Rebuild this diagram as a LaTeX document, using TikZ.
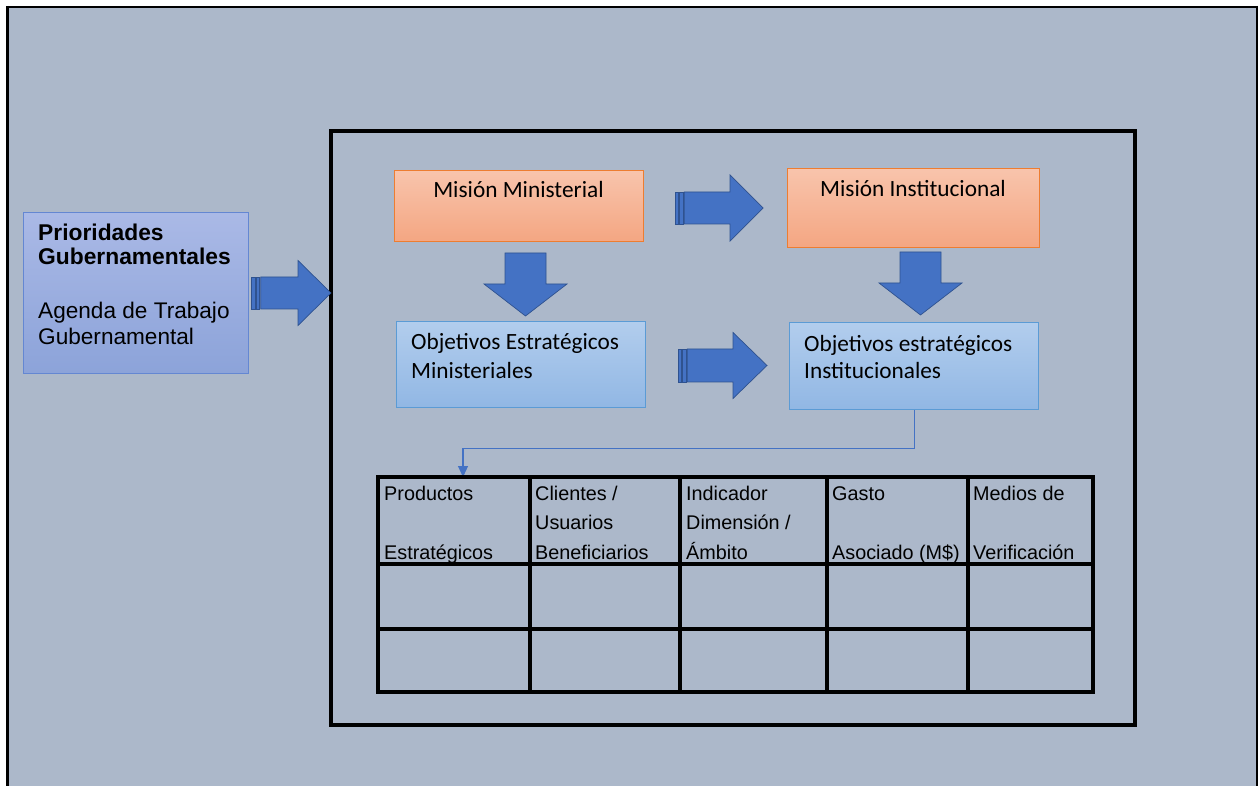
\documentclass[tikz,border=0pt]{standalone}
\usepackage{fontspec}
\usetikzlibrary{arrows.meta}
\newfontfamily\arialf{Liberation Sans}
\newfontfamily\calibrif{Carlito}
\definecolor{bgc}{RGB}{172,184,202}
\definecolor{arrfill}{RGB}{68,114,196}
\definecolor{arrdraw}{RGB}{47,82,143}
\definecolor{ortop}{RGB}{248,196,172}
\definecolor{orbot}{RGB}{244,166,130}
\definecolor{ordraw}{RGB}{237,125,49}
\definecolor{bltop}{RGB}{178,205,237}
\definecolor{blbot}{RGB}{145,183,228}
\definecolor{bldraw}{RGB}{91,155,213}
\definecolor{prtop}{RGB}{170,185,230}
\definecolor{prbot}{RGB}{140,163,217}
\definecolor{prdraw}{RGB}{100,135,210}
\definecolor{connc}{RGB}{68,114,196}
\tikzset{
  barrow/.style={fill=arrfill, draw=arrdraw, line width=0.7pt, line join=miter},
  orbox/.style={draw=ordraw, line width=1.3pt, top color=ortop, bottom color=orbot, inner sep=0pt},
  blbox/.style={draw=bldraw, line width=1.3pt, top color=bltop, bottom color=blbot, inner sep=0pt},
  prbox/.style={draw=prdraw, line width=1.3pt, top color=prtop, bottom color=prbot, inner sep=0pt},
  caltext/.style={font=\calibrif\fontsize{23.3}{26}\selectfont, inner sep=0pt},
  artext/.style={font=\arialf\fontsize{22.6}{26}\selectfont, inner sep=0pt, anchor=base west},
  tabtext/.style={font=\arialf\fontsize{19.8}{22}\selectfont, inner sep=0pt, anchor=base west},
  conn/.style={draw=connc, line width=1.2pt, -{Triangle[width=10pt,length=11pt]}},
}
\newcommand\stripedarrow[6]{%
  \filldraw[barrow] (#1,#4-#5) rectangle (#1+3.6,#4+#5);
  \filldraw[barrow] (#1+4.6,#4-#5) rectangle (#1+8.2,#4+#5);
  \filldraw[barrow] (#1+9.2,#4-#5) -- (#2,#4-#5) -- (#2,#4-#6) -- (#3,#4) -- (#2,#4+#6) -- (#2,#4+#5) -- (#1+9.2,#4+#5) -- cycle;}
\newcommand\dnarrow[6]{%
  \filldraw[barrow] (#1-#5,#2) -- (#1+#5,#2) -- (#1+#5,#3) -- (#1+#6,#3) -- (#1,#4) -- (#1-#6,#3) -- (#1-#5,#3) -- cycle;}
\begin{document}
\begin{tikzpicture}[x=1pt,y=-1pt]
\useasboundingbox (0,0) rectangle (1259,786);
\fill[white] (0,0) rectangle (1259,786);
\fill[bgc] (7,7) rectangle (1257,786);
\draw[line width=2.5pt] (7,7) -- (1257,7);
\draw[line width=3pt] (7.5,5.8) -- (7.5,786);
\draw[line width=2pt] (1256.5,5.8) -- (1256.5,786);
% inner frame
\draw[line width=3.5pt] (331,131) rectangle (1135,725);
% Prioridades box
\node[prbox, minimum width=225pt, minimum height=161pt, anchor=north west] (pr) at (23,212) {};
\node[artext, font=\arialf\bfseries\fontsize{22.8}{26}\selectfont] (pr1) at (38,241) {Prioridades};
\node[artext, font=\arialf\bfseries\fontsize{22.8}{26}\selectfont] (pr2) at (38,265) {Gubernamentales};
\node[artext] (pr3) at (38,319) {Agenda de Trabajo};
\node[artext] (pr4) at (38,345) {Gubernamental};
% Mision boxes
\node[orbox, minimum width=249pt, minimum height=71pt, anchor=north west] (mm) at (394,170) {};
\node[caltext, anchor=base] (mmt) at (518.5,198) {Misión Ministerial};
\node[orbox, minimum width=252pt, minimum height=79pt, anchor=north west] (mi) at (787,168) {};
\node[caltext, anchor=base] (mit) at (913,197) {Misión Institucional};
% Objetivos boxes
\node[blbox, minimum width=249pt, minimum height=86pt, anchor=north west] (om) at (396,321) {};
\node[caltext, anchor=base west] (omt1) at (411,350) {Objetivos Estratégicos};
\node[caltext, anchor=base west] (omt2) at (411,378) {Ministeriales};
\node[blbox, minimum width=249pt, minimum height=87pt, anchor=north west] (oi) at (789,322) {};
\node[caltext, anchor=base west] (oit1) at (804,352) {Objetivos estratégicos};
\node[caltext, anchor=base west] (oit2) at (804,378) {Institucionales};
% block arrows
\stripedarrow{251.5}{298}{331}{293}{16}{32.5}
\stripedarrow{675}{730}{763}{208}{16}{33}
\stripedarrow{678}{733}{767}{365.5}{16.5}{33}
\dnarrow{525.5}{253}{284}{316}{20.5}{41.5}
\dnarrow{920.5}{252}{283}{315}{20.5}{41.5}
% table
\coordinate (tabin) at (463,477);
\draw[conn] (oi.south) -- ++(0,38) -| (tabin);
\foreach \xa/\xb/\c in {378/530/1,530/680/2,680/827/3,827/968/4,968/1093/5}{
  \foreach \ya/\yb/\r in {477/564/1,564/629/2,629/692/3}{
    \node[draw, line width=3.2pt, inner sep=0pt, minimum width=\xb-\xa, minimum height=\yb-\ya] (c\r\c) at ({(\xa+\xb)/2},{(\ya+\yb)/2}) {};
  }
}
\node[tabtext] (h1a) at (384,500) {Productos};
\node[tabtext] (h1c) at (384,559) {Estratégicos};
\node[tabtext] (h2a) at (535,500) {Clientes /};
\node[tabtext] (h2b) at (535,529) {Usuarios};
\node[tabtext] (h2c) at (535,559) {Beneficiarios};
\node[tabtext] (h3a) at (686,500) {Indicador};
\node[tabtext] (h3b) at (686,529) {Dimensión /};
\node[tabtext] (h3c) at (686,559) {Ámbito};
\node[tabtext] (h4a) at (832,500) {Gasto};
\node[tabtext] (h4c) at (832,559) {Asociado (M\$)};
\node[tabtext] (h5a) at (973,500) {Medios de};
\node[tabtext] (h5c) at (973,559) {Verificación};
\end{tikzpicture}
\end{document}
